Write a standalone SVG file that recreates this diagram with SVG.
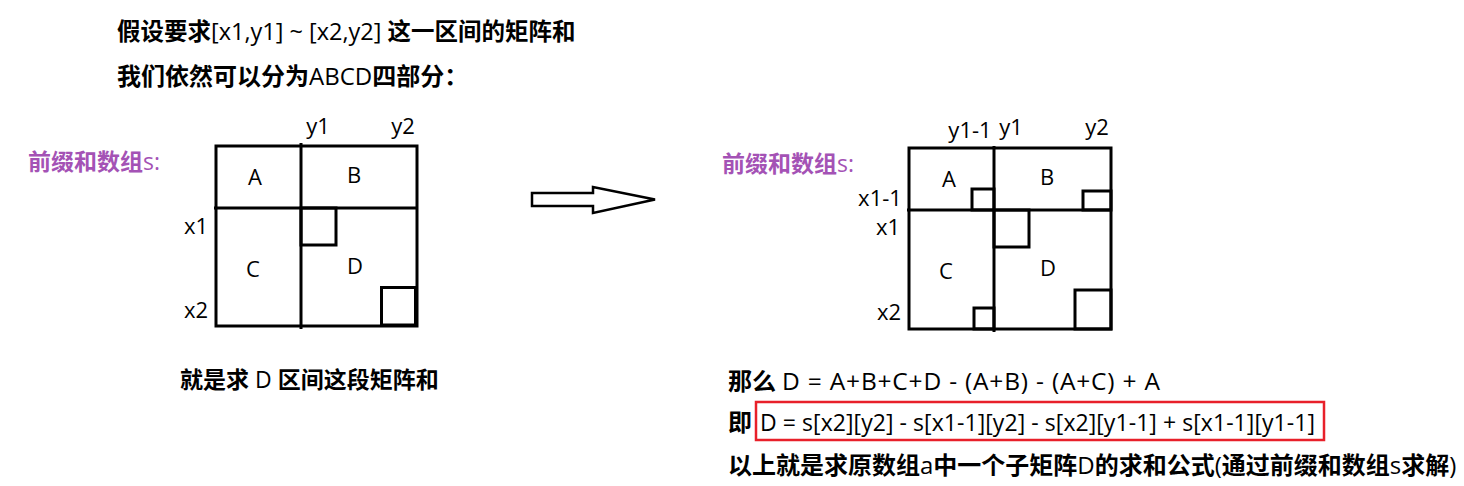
<svg xmlns="http://www.w3.org/2000/svg" width="1464" height="486" viewBox="0 0 1464 486">
<style>
.cn{font-family:"Noto Sans CJK SC","Noto Sans",sans-serif;font-weight:bold;font-size:24px;fill:#000}
.lt{font-family:"Open Sans","Noto Sans",sans-serif;font-weight:normal}
.ltx{font-family:"Open Sans","Noto Sans",sans-serif;font-weight:normal;font-size:23px;fill:#000}
.lbl{font-family:"Open Sans","Noto Sans",sans-serif;font-size:22px;fill:#000}
.mid{text-anchor:middle}
.pur{font-family:"Noto Sans CJK SC",sans-serif;font-weight:bold;font-size:23px;fill:#a452b5}
.ln{stroke:#000;stroke-width:3;fill:none}
</style>
<rect width="1464" height="486" fill="#fff"/>
<g id="title">
<text class="cn" x="117" y="40" style="font-size:23.5px">假设要求<tspan class="lt">[x1,y1] ~ [x2,y2] </tspan>这一区间的矩阵和</text>
<text class="cn" x="117" y="85">我们依然可以分为<tspan class="lt">ABCD</tspan>四部分：</text>
</g>
<g id="left-grid">
<text class="pur" x="28" y="170">前缀和数组<tspan class="lt" font-weight="bold">s:</tspan></text>
<rect class="ln" x="216" y="146" width="201" height="180"/>
<line class="ln" x1="301" y1="143" x2="301" y2="329"/>
<line class="ln" x1="214" y1="208" x2="417" y2="208"/>
<rect class="ln" x="301" y="208" width="35" height="37"/>
<rect class="ln" x="381.5" y="287.5" width="34" height="38"/>
<line stroke="#000" stroke-width="3" x1="381" y1="325" x2="417" y2="325"/>
<text class="lbl mid" x="318" y="134">y1</text>
<text class="lbl mid" x="403" y="134">y2</text>
<text class="lbl mid" x="196" y="234">x1</text>
<text class="lbl mid" x="196" y="318">x2</text>
<text class="lbl mid" x="255" y="185">A</text>
<text class="lbl mid" x="354" y="183">B</text>
<text class="lbl mid" x="253" y="277">C</text>
<text class="lbl mid" x="355" y="274">D</text>
<text class="cn" x="180" y="388" style="font-size:23px">就是求<tspan class="lt"> D </tspan>区间这段矩阵和</text>
</g>
<g id="arrow">
<polygon points="532,193 593,193 593,187 655,199.5 593,213 593,206 532,206" fill="#fff" stroke="#000" stroke-width="2.5"/>
</g>
<g id="right-grid">
<text class="pur" x="722" y="172">前缀和数组<tspan class="lt" font-weight="bold">s:</tspan></text>
<rect class="ln" x="909" y="148" width="202" height="181"/>
<line class="ln" x1="994" y1="146" x2="994" y2="332"/>
<line class="ln" x1="907" y1="210" x2="1111" y2="210"/>
<rect class="ln" x="972" y="189" width="22" height="21"/>
<rect class="ln" x="1083" y="191" width="28" height="19"/>
<rect class="ln" x="994" y="210" width="35" height="37"/>
<rect class="ln" x="974" y="308" width="20" height="21"/>
<rect class="ln" x="1075" y="290" width="36" height="39"/>
<text class="lbl mid" x="970" y="138">y1-1</text>
<text class="lbl mid" x="1011" y="135">y1</text>
<text class="lbl mid" x="1097" y="135">y2</text>
<text class="lbl mid" x="880" y="206">x1-1</text>
<text class="lbl mid" x="888" y="235">x1</text>
<text class="lbl mid" x="889" y="320">x2</text>
<text class="lbl mid" x="949" y="187">A</text>
<text class="lbl mid" x="1047" y="185">B</text>
<text class="lbl mid" x="946" y="279">C</text>
<text class="lbl mid" x="1048" y="276">D</text>
</g>
<g id="formula">
<text class="cn" x="728" y="390">那么</text>
<text class="ltx" x="782" y="390" style="font-size:24.5px" textLength="378" lengthAdjust="spacing">D = A+B+C+D - (A+B) - (A+C) + A</text>
<rect x="756" y="402" width="568" height="38" fill="none" stroke="#e8202a" stroke-width="2.5"/>
<text class="cn" x="728" y="431">即</text>
<text class="ltx" x="760" y="431" textLength="555" lengthAdjust="spacing">D = s[x2][y2] - s[x1-1][y2] - s[x2][y1-1] + s[x1-1][y1-1]</text>
<text class="cn" x="728" y="474">以上就是求原数组<tspan class="lt">a</tspan>中一个子矩阵<tspan class="lt">D</tspan>的求和公式<tspan class="lt">(</tspan>通过前缀和数组<tspan class="lt">s</tspan>求解<tspan class="lt">)</tspan></text>
</g>
</svg>
